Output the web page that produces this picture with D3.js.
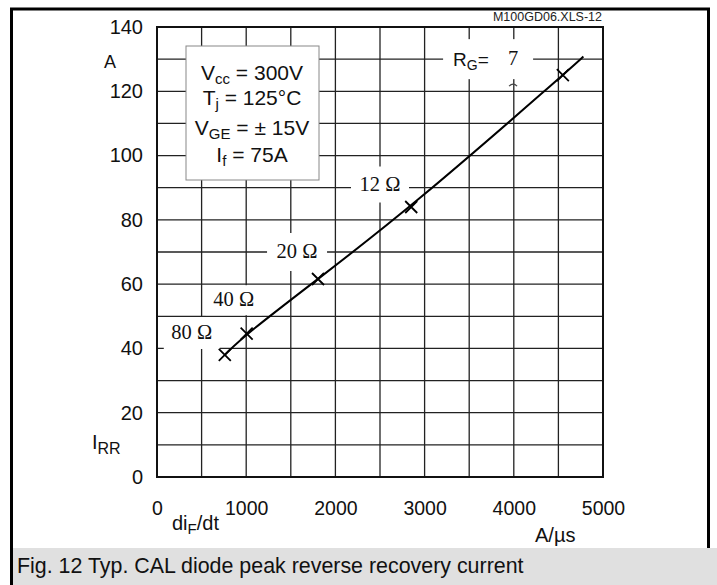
<!DOCTYPE html>
<html><head><meta charset="utf-8">
<script src="https://cdn.jsdelivr.net/npm/d3@7"></script>
<style>body{margin:0;background:#fff} svg{display:block}</style>
</head><body><svg id="c" width="717" height="585"></svg>
<script>
// ---- data ----
const xTicks = [0, 1000, 2000, 3000, 4000, 5000];
const yTicks = [0, 20, 40, 60, 80, 100, 120, 140];
const xGrid = [500, 1000, 1500, 2000, 2500, 3000, 3500, 4000, 4500];
const yGrid = [10, 20, 30, 40, 50, 60, 70, 80, 90, 100, 110, 120, 130];
const rgLabels = ["80 Ω", "40 Ω", "20 Ω", "12 Ω", "7"];
const diF = [760, 1005, 1805, 2850, 4550];          // A/µs
const irr = [38, 44.6, 61.6, 84, 125];             // A
const curveX = [760, 1005, 1805, 2850, 4550, 4780];
const curveY = [38, 44.6, 61.6, 84, 125, 130.8];
// annotation anchors (data space) for Rg labels
const labelX = [390, 860, 1570, 2500, 3510];
const labelY = [44.8, 55, 70, 91, 130];

const SANS = "'Liberation Sans', Arial, Helvetica, sans-serif";
const SERIF = "'Liberation Serif', 'Times New Roman', serif";

const svg = d3.select("#c");
const x = d3.scaleLinear().domain([0, 5000]).range([157, 603]);
const y = d3.scaleLinear().domain([0, 140]).range([477, 27]);

// outer frame
svg.append("rect").attr("x", 13).attr("y", 548).attr("width", 704).attr("height", 37).attr("fill", "#e0e0e0");
svg.append("path").attr("d", "M11.5,585 V9 H708.5 V548").attr("fill", "none").attr("stroke", "#000").attr("stroke-width", 3);
svg.append("text").attr("x", 17).attr("y", 573).attr("font-family", SANS).attr("font-size", 21.4)
  .attr("fill", "#111").text("Fig. 12 Typ. CAL diode peak reverse recovery current");

// grid
const g = svg.append("g");
g.selectAll(".gx").data(xGrid).join("line")
  .attr("x1", d => x(d)).attr("x2", d => x(d)).attr("y1", y(0)).attr("y2", y(140))
  .attr("stroke", "#222").attr("stroke-width", 1.3);
g.selectAll(".gy").data(yGrid).join("line")
  .attr("y1", d => y(d)).attr("y2", d => y(d)).attr("x1", x(0)).attr("x2", x(5000))
  .attr("stroke", "#222").attr("stroke-width", 1.3);

// white label backgrounds (break grid)
const boxW = [56, 56, 60, 58, 90];
const boxH = [32, 30, 38, 36, 40];
const boxDx = [0, 0, 0, 0, 18];
svg.selectAll(".lb").data(rgLabels).join("rect")
  .attr("x", (d, i) => x(labelX[i]) - boxW[i] / 2 + boxDx[i])
  .attr("y", (d, i) => y(labelY[i]) - boxH[i] / 2)
  .attr("width", (d, i) => boxW[i]).attr("height", (d, i) => boxH[i]).attr("fill", "#fff");

// plot border
svg.append("rect").attr("x", x(0)).attr("y", y(140)).attr("width", x(5000) - x(0)).attr("height", y(0) - y(140))
  .attr("fill", "none").attr("stroke", "#111").attr("stroke-width", 2);

// axes tick labels
const ax = svg.append("g").attr("transform", `translate(0,${y(0)})`)
  .call(d3.axisBottom(x).tickValues(xTicks).tickSize(0).tickPadding(24).tickFormat(d3.format("d")));
ax.select(".domain").remove();
ax.selectAll("text").attr("font-family", SANS).attr("font-size", 19.5).attr("fill", "#111");
const ay = svg.append("g").attr("transform", `translate(${x(0)},0)`)
  .call(d3.axisLeft(y).tickValues(yTicks).tickSize(0).tickPadding(14).tickFormat(d3.format("d")));
ay.select(".domain").remove();
ay.selectAll("text").attr("font-family", SANS).attr("font-size", 20).attr("fill", "#111");

// axis titles
svg.append("text").attr("x", 104).attr("y", 68).attr("font-family", SANS).attr("font-size", 18).attr("fill", "#111").text("A");
const irrT = svg.append("text").attr("x", 92).attr("y", 449).attr("font-family", SANS).attr("font-size", 20).attr("fill", "#111");
irrT.append("tspan").text("I");
irrT.append("tspan").attr("dy", 5).attr("font-size", 16).text("RR");
const difT = svg.append("text").attr("x", 172).attr("y", 530).attr("font-family", SANS).attr("font-size", 20).attr("fill", "#111");
difT.append("tspan").text("di");
difT.append("tspan").attr("dy", 4).attr("font-size", 15).text("F");
difT.append("tspan").attr("dy", -4).text("/dt");
svg.append("text").attr("x", 535).attr("y", 542).attr("font-family", SANS).attr("font-size", 20).attr("fill", "#111").text("A/µs");
svg.append("text").attr("x", 602).attr("y", 21).attr("text-anchor", "end").attr("font-family", SANS).attr("font-size", 12.5).attr("fill", "#222").text("M100GD06.XLS-12");

// curve
svg.append("path").datum(curveX.map((d, i) => [d, curveY[i]]))
  .attr("d", d3.line().x(d => x(d[0])).y(d => y(d[1])).curve(d3.curveBasis))
  .attr("fill", "none").attr("stroke", "#000").attr("stroke-width", 2);

// crosses
const cs = 6;
svg.selectAll(".cross").data(diF).join("path")
  .attr("d", (d, i) => {
    const cx = x(d), cy = y(irr[i]);
    return `M${cx - cs},${cy - cs}L${cx + cs},${cy + cs}M${cx - cs},${cy + cs}L${cx + cs},${cy - cs}`;
  })
  .attr("stroke", "#000").attr("stroke-width", 1.8).attr("fill", "none");

// Rg labels
svg.selectAll(".lt").data(rgLabels).join("text")
  .attr("x", (d, i) => x(labelX[i]) + (i === 4 ? 43 : 0))
  .attr("y", (d, i) => y(labelY[i]) + 6)
  .attr("text-anchor", "middle").attr("font-family", SERIF).attr("font-size", 20.5).attr("fill", "#111")
  .text(d => d);
// "R_G=" prefix
const rg = svg.append("text").attr("x", x(labelX[4]) - 17).attr("y", y(labelY[4]) + 7)
  .attr("font-family", SANS).attr("font-size", 19).attr("fill", "#111");
rg.append("tspan").text("R");
rg.append("tspan").attr("dy", 4).attr("font-size", 14).text("G");
rg.append("tspan").attr("dy", -4).text("=");
// clipped omega remnant under the 7
svg.append("path").attr("d", `M${x(labelX[4]) + 39},${y(labelY[4]) + 27} q4,-4 8,0`)
  .attr("fill", "none").attr("stroke", "#444").attr("stroke-width", 1.2);

// conditions box
svg.append("rect").attr("x", 186).attr("y", 46).attr("width", 133).attr("height", 134)
  .attr("fill", "#fff").attr("stroke", "#888").attr("stroke-width", 1);
const cond = [["V", "cc", " = 300V"], ["T", "j", " = 125°C"], ["V", "GE", " = ± 15V"], ["I", "f", " = 75A"]];
const condY = [80, 105, 135, 162];
cond.forEach((c, i) => {
  const t = svg.append("text").attr("x", 252).attr("y", condY[i]).attr("text-anchor", "middle")
    .attr("font-family", SANS).attr("font-size", 21).attr("fill", "#111");
  t.append("tspan").text(c[0]);
  t.append("tspan").attr("dy", 4).attr("font-size", 15).text(c[1]);
  t.append("tspan").attr("dy", -4).text(c[2]);
});
</script></body></html>
